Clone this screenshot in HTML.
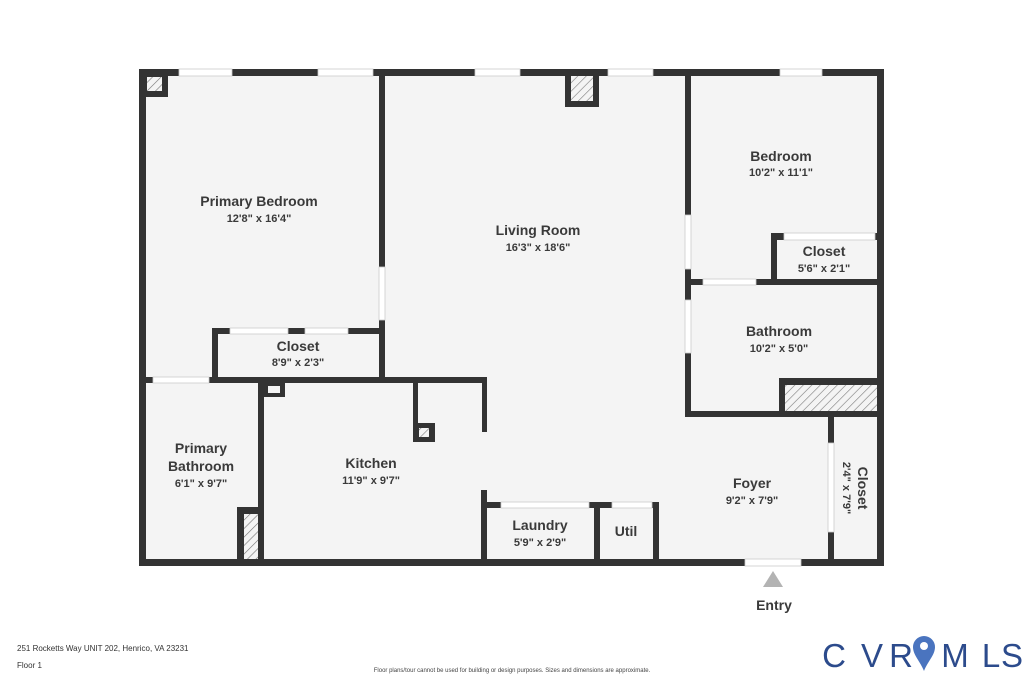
<!DOCTYPE html>
<html><head><meta charset="utf-8"><style>
html,body{margin:0;padding:0;background:#fff;}
svg{display:block;}
text{font-family:"Liberation Sans",sans-serif;fill:#3a3a3a;}
.n{font-size:14px;font-weight:bold;}
.d{font-size:11px;font-weight:bold;}
.lg{font-size:33px;fill:#2c4b8c;}
</style></head><body>
<svg width="1024" height="683" viewBox="0 0 1024 683" xmlns="http://www.w3.org/2000/svg">
<defs>
<pattern id="h" width="6" height="6" patternUnits="userSpaceOnUse" patternTransform="rotate(45)">
<rect width="6" height="6" fill="#f4f4f4"/><line x1="0" y1="0" x2="0" y2="6" stroke="#777" stroke-width="1.2"/>
</pattern>
</defs>
<rect width="1024" height="683" fill="#fff"/>
<rect x="139" y="69" width="745" height="496" fill="#f4f4f4"/>
<g fill="#333">
<rect x="139" y="69" width="745" height="7"/>
<rect x="139" y="69" width="7" height="496"/>
<rect x="877" y="69" width="7" height="496"/>
<rect x="139" y="559" width="745" height="7"/>
<rect x="379" y="69" width="6" height="314"/>
<rect x="212" y="328" width="173" height="6"/>
<rect x="212" y="328" width="6" height="55"/>
<rect x="139" y="377" width="348" height="6"/>
<rect x="258" y="377" width="6" height="188"/>
<rect x="263" y="383" width="22" height="14"/>
<rect x="413" y="377" width="5" height="65"/>
<rect x="413" y="423" width="22" height="19"/>
<rect x="482" y="377" width="5" height="55"/>
<rect x="481" y="490" width="6" height="75"/>
<rect x="481" y="502" width="178" height="6"/>
<rect x="594" y="502" width="6" height="63"/>
<rect x="653" y="502" width="6" height="63"/>
<rect x="237" y="507" width="27" height="58"/>
<rect x="139" y="69" width="29" height="28"/>
<rect x="565" y="69" width="34" height="38"/>
<rect x="685" y="69" width="6" height="348"/>
<rect x="771" y="233" width="113" height="7"/>
<rect x="771" y="233" width="6" height="52"/>
<rect x="685" y="279" width="199" height="6"/>
<rect x="779" y="378" width="105" height="7"/>
<rect x="779" y="378" width="6" height="39"/>
<rect x="685" y="411" width="199" height="6"/>
<rect x="828" y="411" width="6" height="155"/>
</g>
<rect x="147" y="77" width="15" height="14" fill="url(#h)"/>
<rect x="244" y="514" width="14" height="45" fill="url(#h)"/>
<rect x="571" y="76" width="22" height="25" fill="url(#h)"/>
<rect x="419" y="428" width="10" height="9" fill="url(#h)"/>
<rect x="785" y="385" width="92" height="26" fill="url(#h)"/>
<rect x="268" y="386" width="12" height="7" fill="#f4f4f4"/>
<g fill="#fff" stroke="#ccc" stroke-width="0.8">
<rect x="179" y="69" width="53" height="7"/>
<rect x="318" y="69" width="55" height="7"/>
<rect x="475" y="69" width="45" height="7"/>
<rect x="608" y="69" width="45" height="7"/>
<rect x="780" y="69" width="42" height="7"/>
<rect x="379" y="267" width="6" height="53"/>
<rect x="230" y="328" width="58" height="6"/>
<rect x="305" y="328" width="43" height="6"/>
<rect x="153" y="377" width="56" height="6"/>
<rect x="501" y="502" width="88" height="6"/>
<rect x="612" y="502" width="40" height="6"/>
<rect x="685" y="215" width="6" height="54"/>
<rect x="685" y="300" width="6" height="53"/>
<rect x="703" y="279" width="53" height="6"/>
<rect x="784" y="233" width="91" height="7"/>
<rect x="828" y="443" width="6" height="89"/>
<rect x="745" y="559" width="56" height="7"/>
</g>
<g text-anchor="middle">
<text class="n" x="259" y="206">Primary Bedroom</text>
<text class="d" x="259" y="222">12'8" x 16'4"</text>
<text class="n" x="538" y="235">Living Room</text>
<text class="d" x="538" y="251">16'3" x 18'6"</text>
<text class="n" x="781" y="161">Bedroom</text>
<text class="d" x="781" y="176">10'2" x 11'1"</text>
<text class="n" x="824" y="256">Closet</text>
<text class="d" x="824" y="272">5'6" x 2'1"</text>
<text class="n" x="779" y="336">Bathroom</text>
<text class="d" x="779" y="352">10'2" x 5'0"</text>
<text class="n" x="298" y="351">Closet</text>
<text class="d" x="298" y="366">8'9" x 2'3"</text>
<text class="n" x="201" y="453">Primary</text>
<text class="n" x="201" y="471">Bathroom</text>
<text class="d" x="201" y="487">6'1" x 9'7"</text>
<text class="n" x="371" y="468">Kitchen</text>
<text class="d" x="371" y="484">11'9" x 9'7"</text>
<text class="n" x="752" y="488">Foyer</text>
<text class="d" x="752" y="504">9'2" x 7'9"</text>
<text class="n" x="540" y="530">Laundry</text>
<text class="d" x="540" y="546">5'9" x 2'9"</text>
<text class="n" x="626" y="536">Util</text>
<text class="n" transform="translate(858,488) rotate(90)">Closet</text>
<text class="d" transform="translate(843,488) rotate(90)">2'4" x 7'9"</text>
<text class="n" x="774" y="610">Entry</text>
<text class="lg" x="834" y="667">C</text>
<text class="lg" x="872" y="667">V</text>
<text class="lg" x="901" y="667">R</text>
<text class="lg" x="955" y="667">M</text>
<text class="lg" x="991" y="667">L</text>
<text class="lg" x="1012" y="667">S</text>
</g>
<polygon points="773,571 763,587 783,587" fill="#b3b3b3"/>
<text x="17" y="651" style="font-size:8px;fill:#333">251 Rocketts Way UNIT 202, Henrico, VA 23231</text>
<text x="17" y="668" style="font-size:8px;fill:#333">Floor 1</text>
<text x="512" y="672" text-anchor="middle" style="font-size:6px;fill:#444">Floor plans/tour cannot be used for building or design purposes. Sizes and dimensions are approximate.</text>
<path d="M924,636 a11,11 0 0 1 11,11 c0,8 -7,14 -11,24 c-4,-10 -11,-16 -11,-24 a11,11 0 0 1 11,-11z" fill="#4a74bf"/>
<circle cx="924" cy="646" r="4" fill="#fff"/>
</svg>
</body></html>
